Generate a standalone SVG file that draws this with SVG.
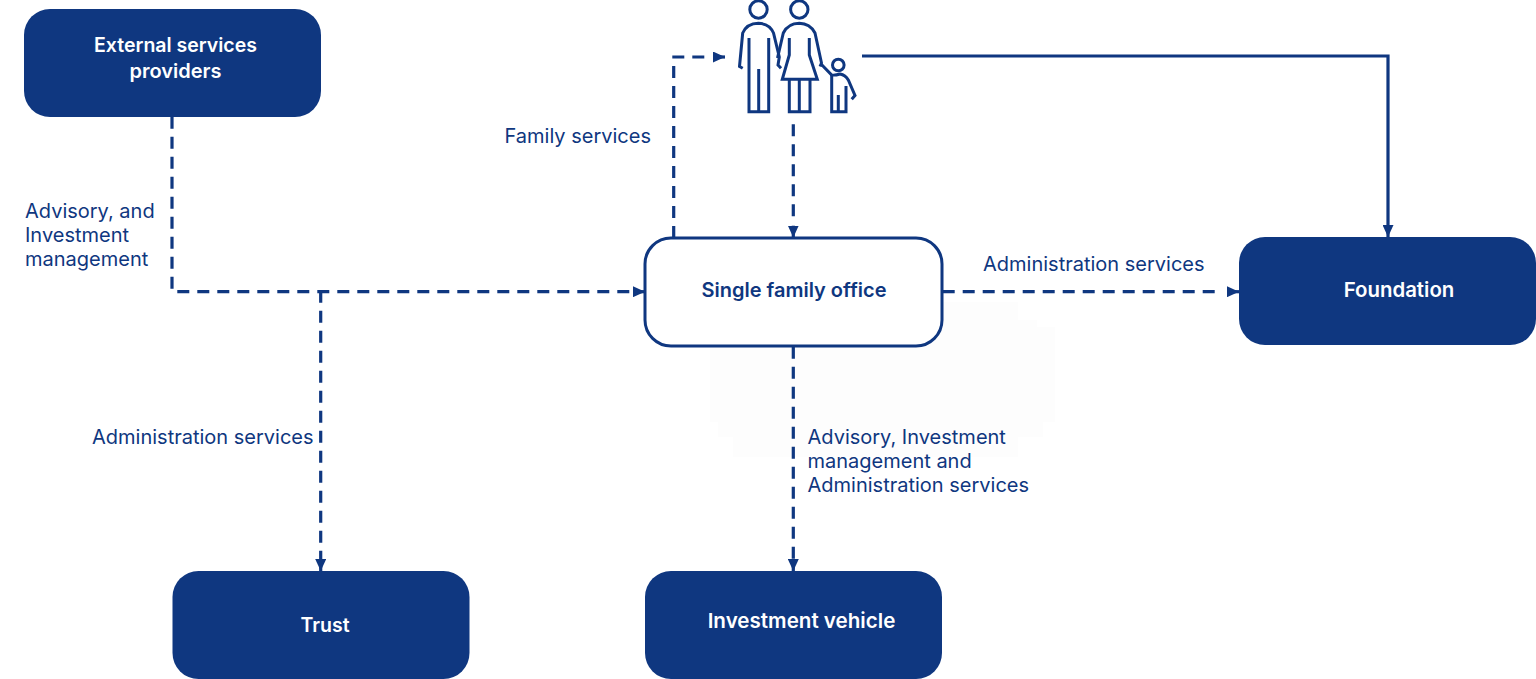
<svg xmlns="http://www.w3.org/2000/svg" width="1536" height="679" viewBox="0 0 1536 679">
<style>
.n{fill:#0f3780}
.o{fill:#fff;stroke:#0f3780;stroke-width:3}
.t{font-family:"Inter","Liberation Sans",sans-serif;font-weight:600;font-size:19.5px;text-anchor:middle;fill:#fff}
.l{font-family:"Inter","Liberation Sans",sans-serif;font-size:20px;fill:#0f3780}
.c{fill:none;stroke:#0f3780;stroke-width:3.200}
.d{stroke-dasharray:12 8}
.i{fill:none;stroke:#0f3780;stroke-width:3}
</style>
<defs>
<marker id="a" viewBox="0 0 12 11" refX="12" refY="5.500" markerWidth="12" markerHeight="11" markerUnits="userSpaceOnUse" orient="auto"><path d="M0 0L12 5.500L0 11Z" fill="#0f3780"/></marker>
</defs>
<rect width="1536" height="679" fill="#fff"/>
<path d="M734 327V302H1018V320H1037V327H1055V422H1043V437H1018V457H733V437H718V422H710V327Z" fill="#fdfdfd"/>
<g id="connectors">
<path class="c d" d="M172 116.700V288.700"/>
<path class="c d" d="M177.300 291.700H630"/>
<path class="c" d="M633 291.700H645" marker-end="url(#a)"/>
<path class="c d" d="M320.700 290.700V560"/>
<path class="c" d="M320.700 559V571" marker-end="url(#a)"/>
<path class="c d" d="M673.700 238V65.700"/>
<path class="c d" d="M672.300 57H705"/>
<path class="c" d="M713 57H725" marker-end="url(#a)"/>
<path class="c d" d="M793.300 124.300V217"/>
<path class="c" d="M793.300 225.700V237.500" marker-end="url(#a)"/>
<path class="c d" d="M942.700 291.700H1215"/>
<path class="c" d="M1227 291.700H1239" marker-end="url(#a)"/>
<path class="c d" d="M793.300 346.700V560"/>
<path class="c" d="M793.300 559V571" marker-end="url(#a)"/>
<path class="c" d="M862 56H1388V237" marker-end="url(#a)"/>
</g>
<g id="external"><rect class="n" x="24" y="9" width="297" height="108" rx="26"/><text class="t" x="175.500" y="51.500">External services</text><text class="t" x="175.500" y="77.500" style="font-size:20px">providers</text></g>
<g id="family-icon">
<circle class="i" cx="758.500" cy="9.500" r="8.700"/>
<circle class="i" cx="799.300" cy="9.500" r="8.700"/>
<circle class="i" cx="838.300" cy="65" r="5.800"/>
<path class="i" d="M749 38V111.700H768.700V38M758.700 69V111.700M742.700 68.300L739.500 66.500L742.700 33Q747 23.500 758.300 23.300Q769.500 23.500 773.500 33L779.300 57L778 65L781 68.300"/>
<path class="i" d="M789.300 38V55L782.300 79.300H817.300L809.300 55V38M789.300 79.300V111.700H810V79.300M799.300 79.300V111.700M777.500 58L783.300 33Q788 23.500 799.300 23.300Q810 23.500 815 33L821.500 63L820 66.500M821.500 64.500L831.700 75Q835 75.500 840 74Q845.500 75 848.300 80L855 95.500L851.700 99.300"/>
<path class="i" d="M831.700 75V111.700H846V86M838.300 95V111.700"/>
</g>
<g id="sfo"><rect class="o" x="645" y="238" width="297" height="108" rx="26"/><text class="t" x="794" y="297" style="fill:#0f3780;font-size:20px">Single family office</text></g>
<g id="foundation"><rect class="n" x="1239" y="237" width="297" height="108" rx="26"/><text class="t" x="1399" y="297" style="font-size:20.400px">Foundation</text></g>
<g id="trust"><rect class="n" x="172.500" y="571" width="297" height="108" rx="26"/><text class="t" x="325" y="631.500">Trust</text></g>
<g id="vehicle"><rect class="n" x="645" y="571" width="297" height="108" rx="26"/><text class="t" x="801.500" y="628" style="font-size:20.600px">Investment vehicle</text></g>
<g id="labels">
<text class="l" x="25" y="218">Advisory, and</text><text class="l" x="25" y="242">Investment</text><text class="l" x="25" y="266">management</text>
<text class="l" x="504.500" y="143">Family services</text>
<text class="l" x="983" y="271">Administration services</text>
<text class="l" x="92" y="444">Administration services</text>
<text class="l" x="807.500" y="444">Advisory, Investment</text><text class="l" x="807.500" y="468">management and</text><text class="l" x="807.500" y="492">Administration services</text>
</g>
</svg>
